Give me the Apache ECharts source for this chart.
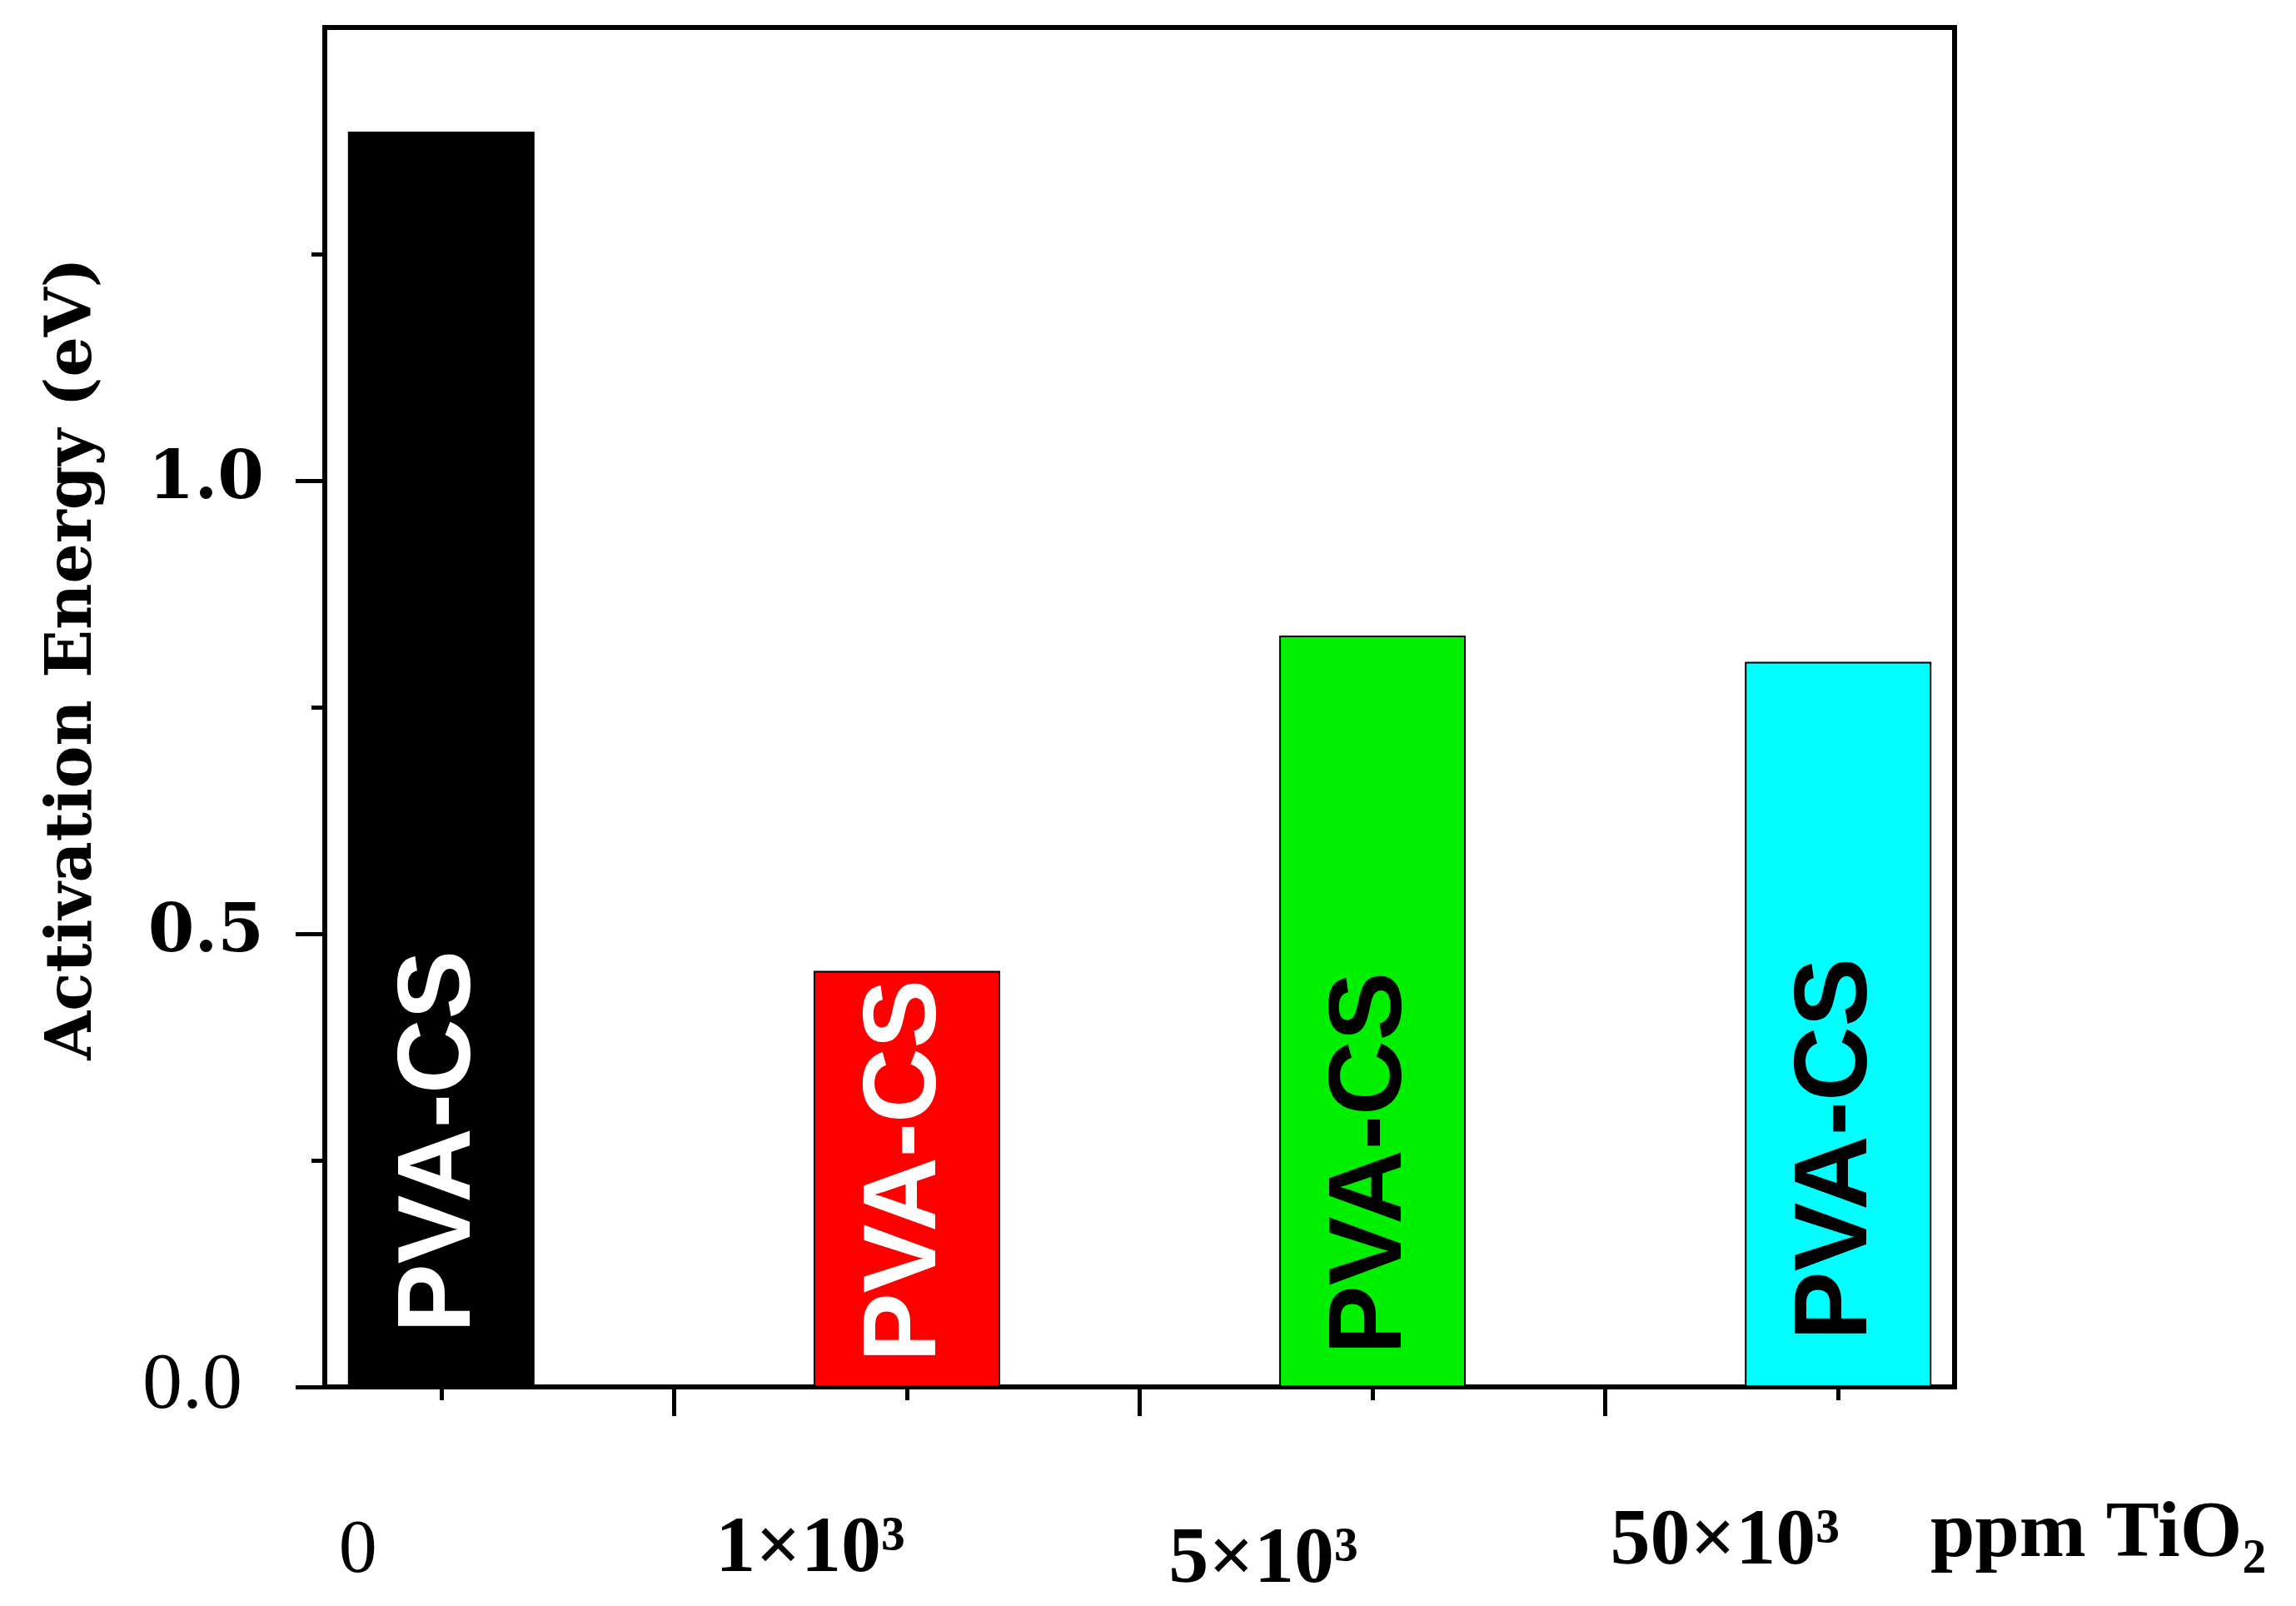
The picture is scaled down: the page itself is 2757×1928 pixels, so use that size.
<!DOCTYPE html>
<html><head><meta charset="utf-8">
<script src="https://cdn.jsdelivr.net/npm/echarts@6/dist/echarts.min.js"></script>
<style>html,body{margin:0;padding:0;background:#fff}#c{width:2757px;height:1928px}</style>
</head><body><div id="c"></div>
<script>
// ---- data ----
const categories = ['0', '1×10³', '5×10³', '50×10³'];
const activationEnergy = [1.385, 0.459, 0.829, 0.80];
const barLabel = 'PVA-CS';
const yTickValues = [0, 0.5, 1.0];
const yTickLabels = ['0.0', '0.5', '1.0'];
const yMinorTicks = [0.25, 0.75, 1.25];
const xName = 'ppm TiO₂';
const yName = 'Activation Energy (eV)';

// ---- styles ----
const barColors = ['#000000', '#ff0000', '#00f000', '#00ffff'];
const labelColors = ['#ffffff', '#ffffff', '#000000', '#000000'];
const labelDistances = [65, 30, 39, 56];
const xLabelPad = [[13, 200], [9, 232], [22, 262], [0, 272]];

const catPos = categories.map((c, i) => i);
const betweenPos = catPos.slice(1).map(p => p - 0.5);

const xRich = {};
categories.forEach((c, i) => {
  xRich['l' + i] = {
    fontFamily: 'Liberation Serif',
    fontWeight: i === 0 ? 'normal' : 'bold',
    fontSize: i === 0 ? 92 : 96,
    color: '#000',
    padding: [xLabelPad[i][0], xLabelPad[i][1], 0, 0]
  };
});

const chart = echarts.init(document.getElementById('c'), null, { renderer: 'canvas' });
chart.setOption({
  animation: false,
  backgroundColor: '#fff',
  grid: { left: 390, right: 410, top: 33, bottom: 263, show: true, borderColor: '#000', borderWidth: 6 },
  xAxis: [{
    type: 'value', min: -0.25, max: 3.25, position: 'bottom',
    axisLine: { show: true, onZero: false, lineStyle: { color: '#000', width: 6 } },
    axisTick: { show: true, inside: false, length: 16, customValues: catPos, lineStyle: { color: '#000', width: 5 } },
    axisLabel: {
      show: true, customValues: catPos, margin: 139,
      formatter: function (v) { const i = Math.round(v); return '{l' + i + '|' + categories[i] + '}'; },
      rich: xRich
    },
    splitLine: { show: false },
    name: '{n|' + xName + '}', nameLocation: 'end', nameGap: -29,
    nameTextStyle: {
      align: 'left', verticalAlign: 'middle',
      rich: { n: { fontFamily: 'Liberation Serif', fontWeight: 'bold', fontSize: 96, color: '#000', padding: [356, 0, 0, 0] } }
    }
  }, {
    type: 'value', min: -0.25, max: 3.25, position: 'bottom',
    axisLine: { show: false, onZero: false },
    axisTick: { show: true, inside: false, length: 35, customValues: betweenPos, lineStyle: { color: '#000', width: 5 } },
    axisLabel: { show: false },
    splitLine: { show: false }
  }],
  yAxis: [{
    type: 'value', min: 0, max: 1.5, interval: 0.5, position: 'left',
    axisLine: { show: true, onZero: false, lineStyle: { color: '#000', width: 6 } },
    axisTick: { show: true, inside: false, length: 35, customValues: yTickValues, lineStyle: { color: '#000', width: 5 } },
    axisLabel: {
      show: true, customValues: yTickValues, margin: 73,
      formatter: function (v) {
        const i = yTickValues.findIndex(t => Math.abs(t - v) < 1e-9);
        return (i === 0 ? '{r|' : '{b|') + yTickLabels[i] + '}';
      },
      rich: {
        r: { fontFamily: 'Liberation Serif', fontSize: 96, fontWeight: 'normal', color: '#000', padding: [0, 26, 0, 0] },
        b: { fontFamily: 'DejaVu Serif', fontSize: 80, fontWeight: 'bold', color: '#000' }
      }
    },
    splitLine: { show: false },
    name: yName, nameLocation: 'middle', nameGap: 263, nameRotate: 90,
    nameTextStyle: { fontFamily: 'DejaVu Serif', fontWeight: 'bold', fontSize: 76, color: '#000', padding: [0, 0, 0, 116] }
  }, {
    type: 'value', min: 0, max: 1.5, position: 'left',
    axisLine: { show: false, onZero: false },
    axisTick: { show: true, inside: false, length: 16, customValues: yMinorTicks, lineStyle: { color: '#000', width: 5 } },
    axisLabel: { show: false },
    splitLine: { show: false }
  }],
  series: [{
    type: 'bar', xAxisIndex: 0, yAxisIndex: 0, barWidth: 224, silent: true,
    data: activationEnergy.map((v, i) => ({
      value: [catPos[i], v],
      itemStyle: { color: barColors[i], borderColor: '#000', borderWidth: 2 },
      label: {
        show: true, formatter: barLabel, position: 'insideBottom', distance: labelDistances[i],
        rotate: 90, align: 'left', verticalAlign: 'middle', color: labelColors[i],
        fontFamily: 'Liberation Sans', fontWeight: 'bold', fontSize: 124
      }
    }))
  }]
});
</script>
</body></html>
